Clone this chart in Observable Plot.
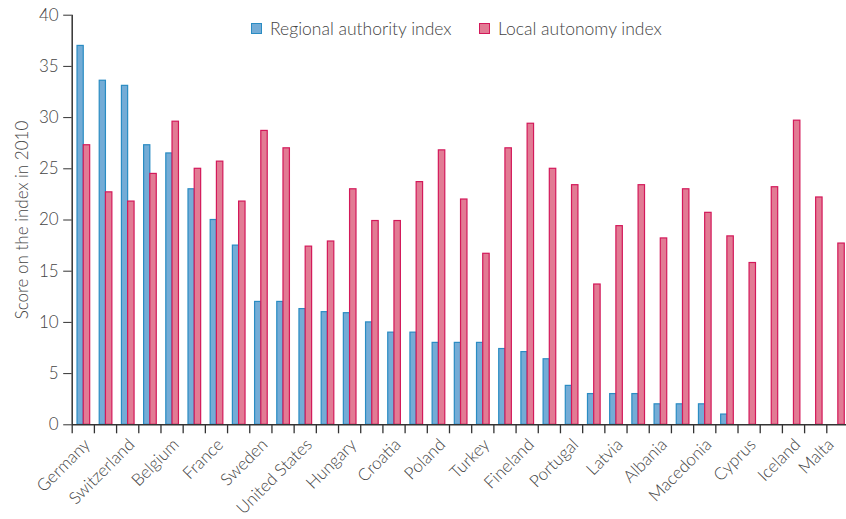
<!DOCTYPE html>
<html>
<head>
<meta charset="utf-8">
<script src="https://cdn.jsdelivr.net/npm/d3@7"></script>
<script src="https://cdn.jsdelivr.net/npm/@observablehq/plot@0.6"></script>
<style>
  html, body { margin: 0; padding: 0; background: #fff; }
  #wrap { position: relative; width: 846px; height: 519px; overflow: hidden;
          font-family: Lato, "Open Sans", sans-serif; color: #444;
          -webkit-font-smoothing: antialiased; }
  .legend { position: absolute; top: 18px; display: flex; align-items: center;
            font-size: 17.5px; font-weight: 300; color: #444; white-space: nowrap; }
  .sw { width: 9px; height: 9px; border: 1.5px solid; margin-right: 8px; }
</style>
</head>
<body>
<div id="wrap"></div>
<script>
// ---- data ----
const countries = [
  "Germany", "Spain", "Switzerland", "Italy", "Belgium", "Austria", "France",
  "Netherlands", "Sweden", "Denmark", "United States", "United Kingdom",
  "Hungary", "Greece", "Croatia", "Czech Republic", "Poland", "Romania",
  "Turkey", "Norway", "Fineland", "Slovakia", "Portugal", "Ireland", "Latvia",
  "Bulgaria", "Albania", "Serbia", "Macedonia", "Slovenia", "Cyprus",
  "Lithuania", "Iceland", "Estonia", "Malta"
];
const regionalAuthority = [
  37.0, 33.6, 33.1, 27.3, 26.5, 23.0, 20.0, 17.5, 12.0, 12.0, 11.3, 11.0,
  10.9, 10.0, 9.0, 9.0, 8.0, 8.0, 8.0, 7.4, 7.1, 6.4, 3.8, 3.0, 3.0, 3.0,
  2.0, 2.0, 2.0, 1.0, 0, 0, 0, 0, 0
];
const localAutonomy = [
  27.3, 22.7, 21.8, 24.5, 29.6, 25.0, 25.7, 21.8, 28.7, 27.0, 17.4, 17.9,
  23.0, 19.9, 19.9, 23.7, 26.8, 22.0, 16.7, 27.0, 29.4, 25.0, 23.4, 13.7,
  19.4, 23.4, 18.2, 23.0, 20.7, 18.4, 15.8, 23.2, 29.7, 22.2, 17.7
];
const seriesNames = ["Regional authority index", "Local autonomy index"];
const yTicks = [0, 5, 10, 15, 20, 25, 30, 35, 40];
const yLabel = "Score on the index in 2010";

const blue = { fill: "#74acd6", stroke: "#2a8cc3" };
const red  = { fill: "#e27b94", stroke: "#d3195a" };

const rows = countries.map((c, i) => ({
  i, country: c, regional: regionalAuthority[i], local: localAutonomy[i]
}));
const groupEdges = d3.range(0, countries.length + 1);
const labelPos = d3.range(0, countries.length, 2).map(i => i + 0.5);
const lastPos = labelPos[labelPos.length - 1];

const font = "Lato, 'Open Sans', sans-serif";
const labelOpts = {
  tickSize: 0, tickPadding: 17, tickRotate: -45,
  tickFormat: x => countries[Math.floor(x)], fontSize: 17, fill: "#444", label: null
};

const chart = Plot.plot({
  width: 846,
  height: 519,
  marginLeft: 71.7,
  marginRight: 0,
  marginTop: 14.7,
  marginBottom: 94.7,
  style: { fontFamily: font, fontSize: "16px", color: "#444", background: "#fff", fontWeight: 300 },
  x: { domain: [0, 34.888], axis: null },
  y: { domain: [0, 40], axis: null },
  marks: [
    Plot.rect(rows.filter(d => d.regional > 0), {
      x1: d => d.i + 0.24, x2: d => d.i + 0.52, y1: d => 0, y2: "regional",
      fill: blue.fill, stroke: blue.stroke, strokeWidth: 1.2
    }),
    Plot.rect(rows.filter(d => d.local > 0), {
      x1: d => d.i + 0.52, x2: d => d.i + 0.81, y1: d => 0, y2: "local",
      fill: red.fill, stroke: red.stroke, strokeWidth: 1.2
    }),
    Plot.axisY({
      ticks: yTicks, tickSize: 8.5, tickPadding: 5, stroke: "#333",
      fontSize: 17, fill: "#444",
      label: yLabel, labelAnchor: "center", labelArrow: "none", labelOffset: 56
    }),
    Plot.axisX({
      ticks: groupEdges, tickSize: 9, tickFormat: () => "", stroke: "#333",
      strokeWidth: 1.3, label: null
    }),
    Plot.axisX({ ...labelOpts, ticks: labelPos.slice(0, -1), dx: 4 }),
    Plot.axisX({ ...labelOpts, ticks: [lastPos], dx: -7 }),
    Plot.ruleX([0], { stroke: "#333", strokeWidth: 1.5 }),
    Plot.ruleY([0], { stroke: "#333", strokeWidth: 1.5 })
  ]
});

const wrap = document.getElementById("wrap");
wrap.appendChild(chart);

const legendDefs = [
  { name: seriesNames[0], c: blue, left: 251 },
  { name: seriesNames[1], c: red, left: 479 }
];
for (const L of legendDefs) {
  const el = document.createElement("div");
  el.className = "legend";
  el.style.left = L.left + "px";
  const sw = document.createElement("span");
  sw.className = "sw";
  sw.style.background = L.c.fill;
  sw.style.borderColor = L.c.stroke;
  const tx = document.createElement("span");
  tx.textContent = L.name;
  el.appendChild(sw);
  el.appendChild(tx);
  wrap.appendChild(el);
}
</script>
</body>
</html>
